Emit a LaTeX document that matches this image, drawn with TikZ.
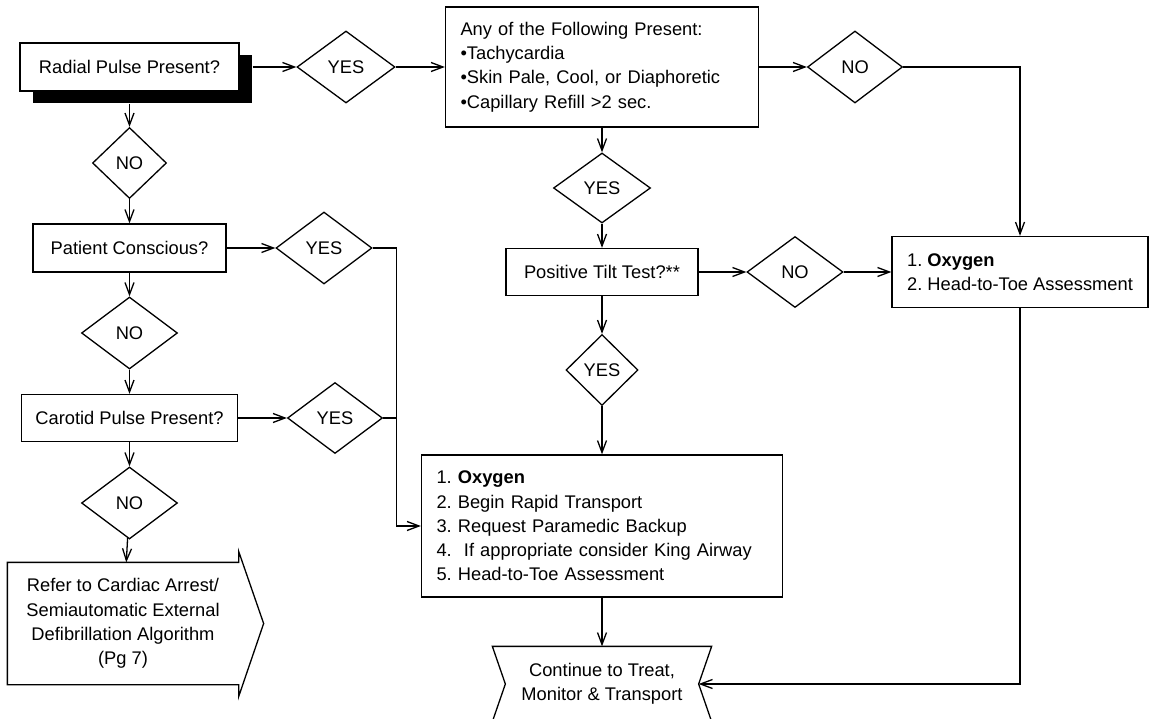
\documentclass[tikz,border=0pt]{standalone}
\usepackage{fontspec}
\setmainfont{Liberation Sans}
\frenchspacing
\usetikzlibrary{shapes.geometric,arrows.meta,positioning,shadows}

\begin{document}
\begin{tikzpicture}[x=1pt, y=-1pt, node distance=85pt, auto,
    font=\fontsize{18.3pt}{24.3pt}\selectfont, line width=1.3pt,
    >={Straight Barb[length=12pt,width=9pt]},
    stepbox/.style={rectangle, draw, fill=white, inner sep=0pt, minimum height=48pt},
    listbox/.style={rectangle, draw, fill=white, inner xsep=15pt, align=left},
    decision/.style={diamond, draw, inner sep=0pt, minimum width=96pt, minimum height=72pt}]
    \useasboundingbox (0,0) rectangle (1150,719);

    % left column
    \node (radial) [stepbox, minimum width=219pt, drop shadow={shadow xshift=13pt, shadow yshift=-12pt, fill=black, opacity=1}] at (129.5,67) {Radial Pulse Present?};
    \node (no1) [decision, minimum width=74pt, minimum height=71pt, below of=radial, node distance=96pt] {NO};
    \node (conscious) [stepbox, minimum width=193pt, below of=no1] {Patient Conscious?};
    \node (no2) [decision, below of=conscious] {NO};
    \node (carotid) [stepbox, minimum width=216pt, minimum height=47pt, below of=no2] {Carotid Pulse Present?};
    \node (no3) [decision, below of=carotid] {NO};
    \node (refer) [minimum width=230pt, minimum height=121pt, inner sep=0pt, align=center] at (123,623.5) {Refer to Cardiac Arrest/\\Semiautomatic External\\Defibrillation Algorithm\\(Pg 7)};
    \node (yes1) [decision, minimum width=98pt, right of=radial, node distance=216.5pt] {YES};
    \node (yesP) [decision, right of=conscious, node distance=194.5pt] {YES};
    \node (yesC) [decision, minimum width=95pt, minimum height=71pt, right of=carotid, node distance=205.5pt] {YES};

    % middle and right
    \node (signs) [listbox, text width=283pt, minimum height=120pt, right of=yes1, node distance=256pt] {Any of the Following Present:\\•Tachycardia\\•Skin Pale, Cool, or Diaphoretic\\•Capillary Refill >2 sec.};
    \node (noA) [decision, minimum width=95pt, right of=signs, node distance=253pt] {NO};
    \node (yes2) [decision, minimum width=97pt, minimum height=70pt, below of=signs, node distance=121pt] {YES};
    \node (tilt) [stepbox, minimum width=192pt, minimum height=47pt, below of=yes2, node distance=84pt] {Positive Tilt Test?**};
    \node (noB) [decision, minimum height=71pt, right of=tilt, node distance=193pt] {NO};
    \node (oxygen) [listbox, inner xsep=10pt, minimum width=256pt, minimum height=71pt, right of=noB, node distance=225pt] {1. \textbf{Oxygen}\\2. Head-to-Toe Assessment};
    \node (yes3) [decision, minimum width=72pt, minimum height=71pt, below of=tilt, node distance=98pt] {YES};
    \node (treat) [listbox, text width=331pt, minimum height=142pt, below of=yes3, node distance=156pt] {1. \textbf{Oxygen}\\2. Begin Rapid Transport\\3. Request Paramedic Backup\\4.~ If appropriate consider King Airway\\5. Head-to-Toe Assessment};
    \node (continue) [minimum width=218pt, minimum height=74pt, inner sep=0pt, align=center, below of=treat, node distance=158pt] {Continue to Treat,\\Monitor \& Transport};

    % outlines of the two special shapes
    \draw (refer.north west) -- (refer.north east) -- ([yshift=11pt]refer.north east) -- ([xshift=25pt]refer.east) -- ([yshift=-12pt]refer.south east) -- (refer.south east) -- (refer.south west) -- cycle;
    \draw (continue.north west) -- (continue.north east) -- ([xshift=-13pt]continue.east) -- (continue.south east) -- (continue.south west) -- ([xshift=13pt]continue.west) -- cycle;

    \coordinate (join) at ([xshift=13.5pt]yesC.east);
    \coordinate (inlet) at ([xshift=-13pt]continue.east);

    \draw[->] ([yshift=-12pt]radial.south) -- (no1);
    \draw[->] (no1) -- (conscious);
    \draw[->] (conscious) -- (no2);
    \draw[->] (no2) -- (carotid);
    \draw[->] (carotid) -- (no3);
    \draw[->] (no3) -- (refer);
    \draw[->] ([xshift=13pt]radial.east) -- (yes1);
    \draw[->] (conscious) -- (yesP);
    \draw[->] (carotid) -- (yesC);
    \draw (yesP.east) -| (join);
    \draw[->] (yesC.east) -- (join) |- (treat.west);
    \draw[->] (yes1) -- (signs);
    \draw[->] (signs) -- (noA);
    \draw[->] (noA.east) -| (oxygen.north);
    \draw[->] (signs) -- (yes2);
    \draw[->] (yes2) -- (tilt);
    \draw[->] (tilt) -- (noB);
    \draw[->] (noB) -- (oxygen);
    \draw[->] (tilt) -- (yes3);
    \draw[->] (yes3) -- (treat);
    \draw[->] (treat) -- (continue);
    \draw[->] (oxygen.south) |- (inlet);
\end{tikzpicture}
\end{document}
